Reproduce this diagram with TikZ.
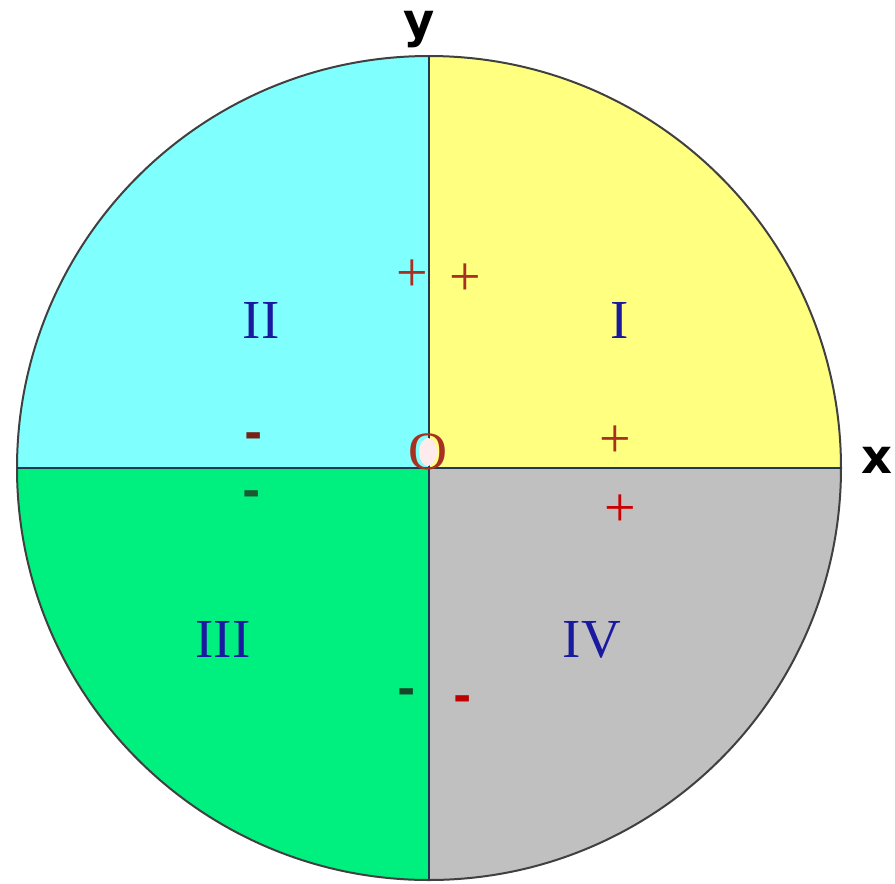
\documentclass[tikz,border=0pt]{standalone}
\usepackage{fontspec}
\setmainfont{Liberation Serif}
\newfontfamily\axfont{DejaVu Sans}
\definecolor{qcyan}{HTML}{80FFFF}
\definecolor{qyellow}{HTML}{FFFF80}
\definecolor{qgreen}{HTML}{00F080}
\definecolor{qgray}{HTML}{C0C0C0}
\definecolor{axcol}{HTML}{203850}
\definecolor{numblue}{HTML}{1A1AA0}
\definecolor{signred}{HTML}{A83020}
\definecolor{minusgreen}{HTML}{1A5A30}
\begin{document}
\begin{tikzpicture}[x=1pt,y=-1pt,
  numeral/.style={text=numblue,font=\fontsize{55}{60}\selectfont,inner sep=0pt},
  plussign/.style={text=signred,font=\fontsize{56}{60}\selectfont,inner sep=0pt,yshift=-4pt},
  minussign/.style={font=\axfont\bfseries\fontsize{44}{46}\selectfont,inner sep=0pt,yshift=-6pt},
  axlabel/.style={text=black,font=\axfont\bfseries\fontsize{48}{50}\selectfont,inner sep=0pt}]
\useasboundingbox (0,0) rectangle (895,884);
\fill[white] (0,0) rectangle (895,884);
\coordinate (O) at (429,468);
\def\R{412}
% quadrants
\fill[qyellow] (O) -- ++(\R,0) arc[start angle=0,end angle=-90,radius=\R] -- cycle;
\fill[qcyan] (O) -- ++(0,-\R) arc[start angle=-90,end angle=-180,radius=\R] -- cycle;
\fill[qgreen] (O) -- ++(-\R,0) arc[start angle=180,end angle=90,radius=\R] -- cycle;
\fill[qgray] (O) -- ++(0,\R) arc[start angle=90,end angle=0,radius=\R] -- cycle;
\draw[line width=2pt,black!75] (O) circle[radius=\R];
% axes
\coordinate (xl) at (17,468);
\coordinate (xr) at (841,468);
\coordinate (yt) at (429,56);
\coordinate (yb) at (429,880);
\draw[axcol,line width=2.6pt] (xl) -- (xr);
\draw[axcol,line width=2.6pt] (yt) -- (yb);
% labels
\node[axlabel] (ylab) at (419,30) {y};
\node[axlabel] (xlab) at (877,460) {x};
\node[numeral] (n1) at (620,320) {I};
\node[numeral] (n2) at (261,320) {II};
\node[numeral] (n3) at (223,639) {III};
\node[numeral] (n4) at (592,640) {IV};
\fill[red!8] (428,452) ellipse[x radius=9,y radius=14];
\node[text=signred,font=\fontsize{54}{58}\selectfont,inner sep=0pt] (origin) at (428,452) {O};
\node[plussign] (p1) at (412,272) {+};
\node[plussign] (p2) at (465,276) {+};
\node[plussign] (p3) at (615,438) {+};
\node[plussign,text=red!80!black] (p4) at (620,507) {+};
\node[minussign,text=signred!70!black] (m1) at (254,435) {-};
\node[minussign,text=minusgreen] (m2) at (252,493) {-};
\node[minussign,text=minusgreen!80!black] (m3) at (407,691) {-};
\node[minussign,text=red!75!black] (m4) at (463,698) {-};
\end{tikzpicture}
\end{document}
